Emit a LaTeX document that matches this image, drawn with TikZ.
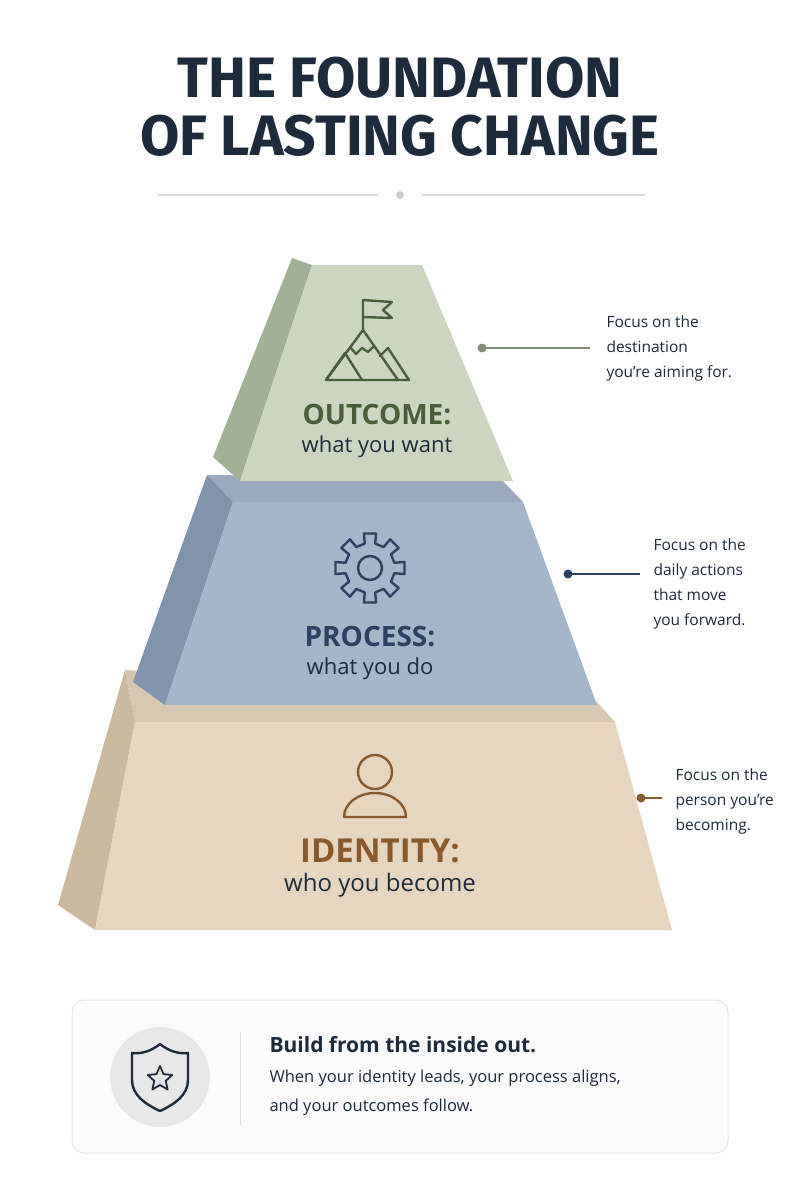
\documentclass[tikz,border=0pt]{standalone}
\usepackage{fontspec}
\setmainfont{Open Sans}
\newfontfamily\titlefont{Fira Sans}
\usetikzlibrary{calc,positioning}
\definecolor{ink}{HTML}{1E2B3C}
\definecolor{greenface}{HTML}{CBD5C0}
\definecolor{greenside}{HTML}{A2B096}
\definecolor{greentext}{HTML}{4A5E3A}
\definecolor{blueface}{HTML}{A5B6CA}
\definecolor{blueside}{HTML}{8094AE}
\definecolor{bluetext}{HTML}{2B4262}
\definecolor{sandface}{HTML}{E6D6C0}
\definecolor{sandside}{HTML}{CDB99E}
\definecolor{sandtext}{HTML}{8A5A2A}
\tikzset{
  icon/.style={line width=2.4pt, line join=round, line cap=round},
  tiername/.style={font=\bfseries\fontsize{28}{30}\selectfont},
  tiersub/.style={text=ink, font=\fontsize{22}{24}\selectfont},
  note/.style={anchor=north west, align=left, text=ink, font=\fontsize{15.5}{25}\selectfont},
}
\begin{document}
\begin{tikzpicture}[x=1pt,y=-1pt]
  \useasboundingbox (0,0) rectangle (800,1200);
  \fill[white] (0,0) rectangle (800,1200);
  %TITLE
  \node[text=ink, font=\titlefont\bfseries\fontsize{57}{58}\selectfont, align=center] (title) at (400,107) {THE FOUNDATION\\OF LASTING CHANGE};
  \coordinate (divL) at (158,195);
  \coordinate (divR) at (645,195);
  \fill[gray!40] (400,195) circle (4);
  \draw[gray!30, line width=1.2pt] (divL) -- (378,195) (422,195) -- (divR);
  %IDENTITY tier
  \fill[sandside!80] (125,670) -- (595,700) -- (615,722) -- (135,722) -- cycle;
  \fill[sandside] (125,670) -- (135,722) -- (95,930) -- (58,905) -- cycle;
  \fill[sandface] (135,722) -- (615,722) -- (672,930) -- (95,930) -- cycle;
  %PROCESS tier
  \fill[blueside!80] (207,475) -- (500,478) -- (523,502) -- (233,502) -- cycle;
  \fill[blueside] (207,475) -- (233,502) -- (165,705) -- (133,682) -- cycle;
  \fill[blueface] (233,502) -- (523,502) -- (597,705) -- (165,705) -- cycle;
  %OUTCOME tier
  \fill[greenside] (292,258) -- (312,265) -- (240,481) -- (213,457) -- cycle;
  \fill[greenface] (312,265) -- (422,265) -- (513,481) -- (240,481) -- cycle;
  %labels
  \node[tiername, text=greentext] (outcome) at (377,415) {OUTCOME:};
  \node[tiersub, below=3pt of outcome] (outcomesub) {what you want};
  \node[tiername, text=bluetext] (process) at (370,637) {PROCESS:};
  \node[tiersub, below=3pt of process] (processsub) {what you do};
  \node[tiername, text=sandtext, font=\bfseries\fontsize{33}{35}\selectfont] (identity) at (380,851) {IDENTITY:};
  \node[tiersub, font=\fontsize{24}{26}\selectfont, below=3pt of identity] (identitysub) {who you become};
  %mountain icon
  \draw[icon, greentext] (326,380) -- (363,330) -- (398,380) -- cycle;
  \draw[icon, greentext] (326,380) -- (345,353) -- (362,380);
  \draw[icon, greentext] (380,356) -- (388,348) -- (409,380) -- (394,380);
  \draw[icon, greentext] (350,347) -- (356,354) -- (362,348) -- (368,352) -- (374,346);
  \draw[icon, greentext] (363,330) -- (363,300) -- (392,302) -- (383,310) -- (392,318) -- (363,317);
  %gear icon
  \begin{scope}[shift={(370,568)}]
    \draw[icon, bluetext] (-12:25) \foreach \a in {0,45,...,315}{ -- (\a-12:25) -- (\a-10:35) -- (\a+10:35) -- (\a+12:25)} -- cycle;
    \draw[icon, bluetext] (0,0) circle (12);
  \end{scope}
  %person icon
  \draw[icon, sandtext] (375,772) circle (17);
  \draw[icon, sandtext] (344,817) arc[start angle=180, end angle=0, x radius=31, y radius=-24] -- cycle;
  %callouts
  \coordinate (outcomedot) at (482,348);
  \coordinate (processdot) at (568,574);
  \coordinate (identitydot) at (641,798);
  \fill[greenside!80!black] (outcomedot) circle (4.5);
  \draw[greenside!80!black, line width=1.2pt] (outcomedot) -- (590,348);
  \node[note] (outcomenote) at (603,312) {Focus on the\\destination\\you’re aiming for.};
  \fill[bluetext] (processdot) circle (4.5);
  \draw[bluetext, line width=1.2pt] (processdot) -- (640,574);
  \node[note] (processnote) at (650,535) {Focus on the\\daily actions\\that move\\you forward.};
  \fill[sandtext] (identitydot) circle (4.5);
  \draw[sandtext, line width=1.2pt] (identitydot) -- (662,798);
  \node[note] (identitynote) at (672,765) {Focus on the\\person you’re\\becoming.};
  %bottom card
  \draw[gray!20, fill=gray!3, line width=1pt, rounded corners=12pt] (72,1000) rectangle (728,1153);
  \fill[gray!18] (160,1077) circle (50);
  \draw[gray!25, line width=1pt] (240,1032) -- (240,1125);
  \draw[icon, ink] (160,1044) .. controls (150,1052) and (140,1054) .. (132,1053) -- (132,1080)
    .. controls (132,1095) and (145,1104) .. (160,1111) .. controls (175,1104) and (188,1095) .. (188,1080)
    -- (188,1053) .. controls (180,1054) and (170,1052) .. (160,1044) -- cycle;
  \draw[icon, ink, line width=1.8pt] (160,1066) \foreach \a in {1,...,5}{ -- ($(160,1079)+(90+\a*72-36:-6)$) -- ($(160,1079)+(90+\a*72:-13)$)} -- cycle;
  \node[anchor=west, text=ink, font=\bfseries\fontsize{21}{24}\selectfont] (cardhead) at (266,1045) {Build from the inside out.};
  \node[anchor=north west, align=left, text=ink, font=\fontsize{16.5}{29}\selectfont] (cardbody) at (266,1066) {When your identity leads, your process aligns,\\and your outcomes follow.};
\end{tikzpicture}
\end{document}
